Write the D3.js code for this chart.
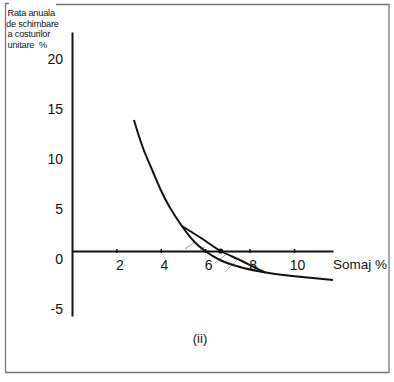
<!DOCTYPE html>
<html>
<head>
<meta charset="utf-8">
<script src="https://cdn.jsdelivr.net/npm/d3@7"></script>
<style>
  body { margin: 0; background: #fff; }
  svg { display: block; font-family: "Liberation Sans", Arial, sans-serif; }
</style>
</head>
<body>
<div id="chart"></div>
<script>
// axis ticks
var xTicks = [2, 4, 6, 8, 10];
var yTicks = [20, 15, 10, 5, 0, -5];
var yTitle = ["Rata anuala", "de schimbare", "a costurilor", "unitare  %"];

// main (steep) curve
var curveX = [2.79, 3.2, 3.65, 4.0, 4.41, 4.95, 5.5, 6.0, 6.67, 7.57, 8.6, 9.5, 10.6, 11.76];
var curveY = [13.1, 10.3, 7.9, 6.1, 4.35, 2.5, 0.95, 0, -0.9, -1.6, -2.1, -2.4, -2.65, -2.9];

// upper branch between 5% and ~8.6%
var branchX = [4.95, 5.85, 6.7, 7.57, 8.24, 8.7];
var branchY = [2.5, 1.25, 0, -0.9, -1.65, -2.15];

// marked point on the branch
var dotX = [6.7];
var dotY = [0];

// little hatch strokes between the curves
var hatchX1 = [5.09, 5.77, 6.44, 6.89];
var hatchY1 = [0.2, 0.1, -1.2, -2.1];
var hatchX2 = [5.54, 5.99, 7.03, 7.43];
var hatchY2 = [0.9, 0.4, -0.2, -0.9];

var width = 394;
var height = 382;

var svg = d3.select("#chart")
  .append("svg")
    .attr("width", width)
    .attr("height", height);

// frame round the figure
svg.append("path")
  .attr("d", "M56,4.5 H389 V372.5 H5.5 V3 M5.5,3.5 H9")
  .attr("fill", "none")
  .attr("stroke", "#777")
  .attr("stroke-width", 1.3);

var x = d3.scaleLinear().domain([0, 11.76]).range([72, 333]);
var y = d3.scaleLinear().domain([-6.5, 21.9]).range([316, 32]);

// y axis
var yAxis = svg.append("g")
  .attr("transform", "translate(" + x(0) + ",0)")
  .call(d3.axisLeft(y).tickValues(yTicks).tickSize(0).tickPadding(9)
    .tickFormat(function (d) { return String(d); }));
yAxis.select(".domain")
  .attr("stroke", "#111")
  .attr("stroke-width", 2);
yAxis.selectAll("text")
  .attr("y", 8)
  .style("font-size", "14px")
  .style("font-family", "'Liberation Sans', Arial, sans-serif")
  .attr("fill", "#111");

// x axis (at zero)
var xAxis = svg.append("g")
  .attr("transform", "translate(0," + y(0) + ")")
  .call(d3.axisBottom(x).tickValues(xTicks).tickSizeInner(2).tickSizeOuter(0).tickPadding(7));
xAxis.select(".domain")
  .attr("stroke", "#111")
  .attr("stroke-width", 2);
xAxis.selectAll(".tick line")
  .attr("y1", -2)
  .attr("y2", 2)
  .attr("stroke", "#111")
  .attr("stroke-width", 1.5);
xAxis.selectAll("text")
  .attr("dx", 3)
  .style("font-size", "14px")
  .style("font-family", "'Liberation Sans', Arial, sans-serif")
  .attr("fill", "#111");

svg.append("text")
  .attr("x", x(11.76))
  .attr("y", 269)
  .style("font-size", "13.5px")
  .attr("fill", "#111")
  .text("Somaj %");

// y axis title, top left
svg.append("g")
  .selectAll("text")
  .data(yTitle)
  .enter()
  .append("text")
    .attr("x", function (d, i) { return i == 1 ? 6 : 7.5; })
    .attr("y", function (d, i) { return 16 + i * 10.6; })
    .style("font-size", "9.2px")
    .style("letter-spacing", "-0.2px")
    .style("white-space", "pre")
    .attr("fill", "#111")
    .text(function (d) { return d; });

// hatch strokes
svg.append("g")
  .selectAll("line")
  .data(hatchX1)
  .enter()
  .append("line")
    .attr("x1", function (d) { return x(d); })
    .attr("y1", function (d, i) { return y(hatchY1[i]); })
    .attr("x2", function (d, i) { return x(hatchX2[i]); })
    .attr("y2", function (d, i) { return y(hatchY2[i]); })
    .attr("stroke", "#999")
    .attr("stroke-width", 0.9);

var line = d3.line()
  .x(function (d) { return x(d[0]); })
  .y(function (d) { return y(d[1]); })
  .curve(d3.curveCatmullRom.alpha(0.5));

svg.append("path")
  .datum(d3.zip(curveX, curveY))
  .attr("d", line)
  .attr("fill", "none")
  .attr("stroke", "#111")
  .attr("stroke-width", 2);

svg.append("path")
  .datum(d3.zip(branchX, branchY))
  .attr("d", line)
  .attr("fill", "none")
  .attr("stroke", "#111")
  .attr("stroke-width", 2);

svg.selectAll(".dot")
  .data(dotX)
  .enter()
  .append("circle")
    .attr("class", "dot")
    .attr("cx", function (d) { return x(d); })
    .attr("cy", function (d, i) { return y(dotY[i]); })
    .attr("r", 2.6)
    .attr("fill", "#111");

// panel label
svg.append("text")
  .attr("x", 200)
  .attr("y", 343)
  .attr("text-anchor", "middle")
  .style("font-size", "13px")
  .attr("fill", "#111")
  .text("(ii)");
</script>
</body>
</html>
